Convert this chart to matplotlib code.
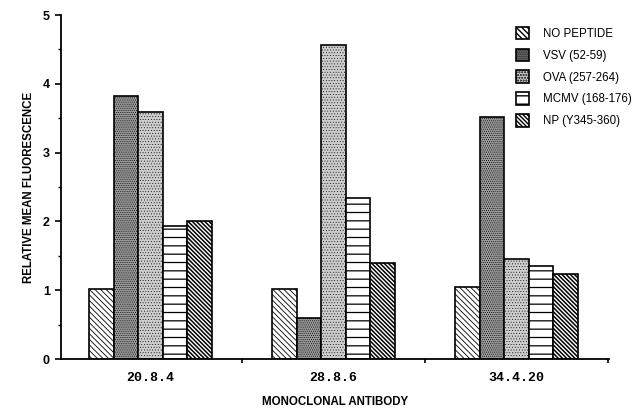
import matplotlib
matplotlib.use("Agg")
import matplotlib.pyplot as plt
import numpy as np
from matplotlib.patches import Patch

# data
antibodies = ["20.8.4", "28.8.6", "34.4.20"]
peptides = ["NO PEPTIDE", "VSV (52-59)", "OVA (257-264)", "MCMV (168-176)", "NP (Y345-360)"]
no_peptide = [1.02, 1.02, 1.04]
vsv = [3.82, 0.60, 3.52]
ova = [3.59, 4.56, 1.45]
mcmv = [1.93, 2.34, 1.35]
np_y345 = [2.00, 1.39, 1.24]
series = [no_peptide, vsv, ova, mcmv, np_y345]

# bar styles per series: (facecolor, hatch, hatch linewidth)
styles = [
    ("white", "\\" * 6, 0.6),
    ("#9a9a9a", "." * 8, 0.4),
    ("#cdcdcd", "." * 6, 0.3),
    ("white", "--", 0.9),
    ("white", "\\" * 8, 1.1),
]

fig = plt.figure(figsize=(6.43, 4.11), dpi=100)
ax = fig.add_axes([0.095, 0.1265, 0.852, 0.837])

x = np.arange(len(antibodies))
width = 0.134
for i, (vals, (fc, hatch, hlw)) in enumerate(zip(series, styles)):
    with plt.rc_context({"hatch.linewidth": hlw}):
        ax.bar(x + (i - 2) * width, vals, width, facecolor=fc, edgecolor="black",
               hatch=hatch, linewidth=1.2)

ax.set_xlim(-0.489, 2.505)
ax.set_ylim(0, 5)
ax.spines["top"].set_visible(False)
ax.spines["right"].set_visible(False)
ax.spines["left"].set_linewidth(1.3)
ax.spines["bottom"].set_linewidth(1.3)

ax.set_yticks(range(6))
ax.set_yticks(np.arange(0.5, 5, 1), minor=True)
ax.tick_params(axis="y", which="major", length=4, width=1.2, labelsize=9, pad=4)
ax.tick_params(axis="y", which="minor", length=2.5, width=1)
for lbl in ax.get_yticklabels():
    lbl.set_fontweight("bold")
    lbl.set_family("Liberation Sans")

ax.set_xticks(x)
ax.set_xticklabels(antibodies, family="Liberation Mono", fontweight="bold", fontsize=9.5)
ax.set_xticks([0.5, 1.5, 2.5], minor=True)
ax.tick_params(axis="x", which="major", length=0, pad=9)
ax.tick_params(axis="x", which="minor", length=3, width=1.2)

ax.set_ylabel("RELATIVE MEAN FLUORESCENCE", family="Liberation Sans",
              fontweight="bold", fontsize=8.3, labelpad=6)
ax.set_xlabel("MONOCLONAL ANTIBODY", family="Liberation Sans",
              fontweight="bold", fontsize=8.3, labelpad=9)

handles = []
for name, (fc, hatch, hlw) in zip(peptides, styles):
    with plt.rc_context({"hatch.linewidth": hlw}):
        handles.append(Patch(facecolor=fc, edgecolor="black", hatch=hatch,
                             linewidth=1.2, label=name))
fig.legend(handles=handles, loc="upper left", bbox_to_anchor=(0.787, 0.96),
           frameon=False, prop={"family": "Liberation Sans", "size": 8.3},
           handlelength=1.1, handleheight=1.3, labelspacing=0.75, handletextpad=1.2)

fig.savefig("out.png", dpi=100)
